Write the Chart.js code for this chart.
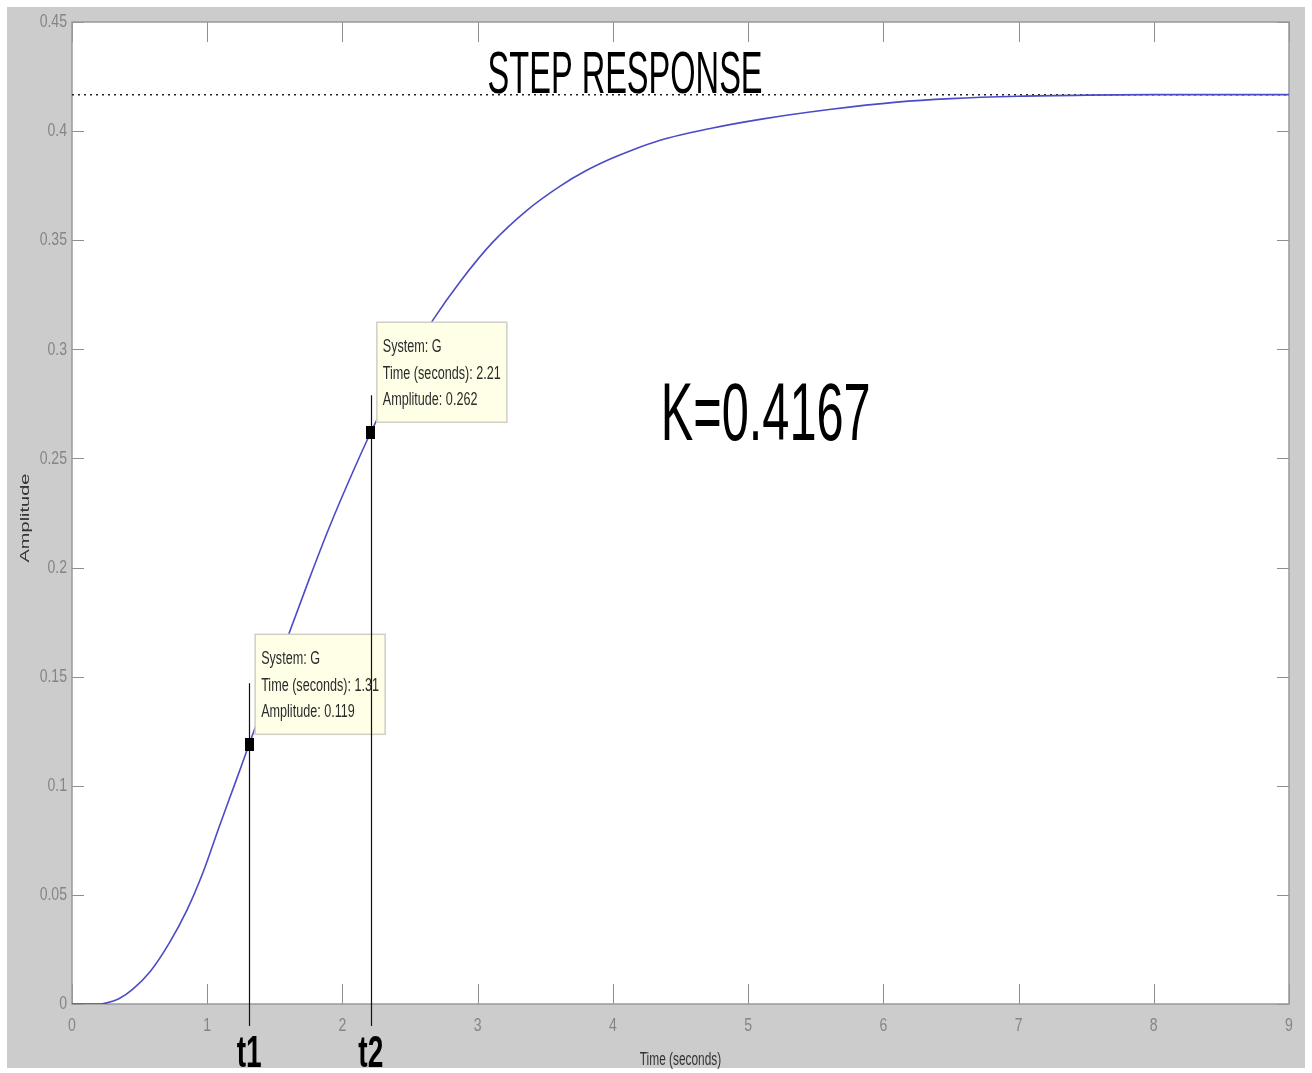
<!DOCTYPE html>
<html>
<head>
<meta charset="utf-8">
<title>Step Response</title>
<script src="https://cdn.jsdelivr.net/npm/chart.js@4/dist/chart.umd.min.js"></script>
<style>
  html, body { margin: 0; padding: 0; background: #ffffff; overflow: hidden; }
  canvas { display: block; }
</style>
</head>
<body>
<canvas id="plot" width="1312" height="1073"></canvas>
<script>
// Step response of system G (time in seconds, amplitude)
const timeSec = [0, 0.1, 0.2, 0.25, 0.35, 0.45, 0.58, 0.72, 0.85, 0.97, 1.09, 1.22, 1.31,
  1.45, 1.6, 1.75, 1.9, 2.05, 2.21, 2.35, 2.5, 2.67, 2.87, 3.11, 3.36, 3.61, 3.8, 3.98,
  4.15, 4.35, 4.72, 5.1, 5.6, 6.1, 6.5, 7.0, 7.5, 8.0, 9.0];
const amplitude = [0, 0, 0, 0.0004, 0.0025, 0.0068, 0.015, 0.028, 0.043, 0.0605, 0.0815, 0.1035, 0.119,
  0.143, 0.169, 0.194, 0.218, 0.24, 0.262, 0.2795, 0.2965, 0.3135, 0.331, 0.349, 0.3635, 0.3748, 0.3818, 0.3872,
  0.3915, 0.3958, 0.4012, 0.4055, 0.4099, 0.4133, 0.4149, 0.416, 0.4165, 0.4167, 0.4167];

// Steady-state gain
const gainK = 0.4167;

// Data tips (t1, t2)
const tipNames = ['t1', 't2'];
const tipTime = [1.31, 2.21];
const tipAmp = [0.119, 0.262];
const tipLineTop = [0.147, 0.279];

// Axis ticks
const xTicks = [0, 1, 2, 3, 4, 5, 6, 7, 8, 9];
const xTickLabels = ['0', '1', '2', '3', '4', '5', '6', '7', '8', '9'];
const yTicks = [0, 0.05, 0.1, 0.15, 0.2, 0.25, 0.3, 0.35, 0.4, 0.45];
const yTickLabels = ['0', '0.05', '0.1', '0.15', '0.2', '0.25', '0.3', '0.35', '0.4', '0.45'];

const FONT = '"Liberation Sans", Arial, sans-serif';

function drawText(ctx, s, x, y, size, o) {
  o = o || {};
  ctx.save();
  ctx.font = (o.weight || 'normal') + ' ' + size + 'px ' + FONT;
  ctx.fillStyle = o.color || '#000';
  ctx.textAlign = o.align || 'center';
  ctx.textBaseline = o.baseline || 'alphabetic';
  let k = o.sx || 1;
  if (o.width) k = o.width / ctx.measureText(s).width;
  ctx.translate(x, y);
  if (o.rotate) {
    ctx.rotate(o.rotate);
    ctx.scale(1, o.sy || 1);
  } else {
    ctx.scale(k, 1);
  }
  ctx.fillText(s, 0, 0);
  ctx.restore();
}

// Marker for data tips: small filled black rectangle
const tipMarker = document.createElement('canvas');
tipMarker.width = 9; tipMarker.height = 13;
(function () {
  const m = tipMarker.getContext('2d');
  m.fillStyle = '#000';
  m.fillRect(0, 0, 9, 13);
})();

const figureFrame = {
  id: 'figureFrame',
  beforeDraw(chart) {
    const { ctx, chartArea: a, width, height } = chart;
    ctx.save();
    ctx.fillStyle = '#ffffff';
    ctx.fillRect(0, 0, width, height);
    ctx.fillStyle = '#cccccc';
    ctx.fillRect(7, 7, width - 14, height - 12);
    ctx.fillStyle = '#ffffff';
    ctx.fillRect(a.left, a.top, a.right - a.left, a.bottom - a.top);
    ctx.restore();
  },
  beforeDatasetsDraw(chart) {
    const { ctx, chartArea: a, scales } = chart;
    const xs = scales.x, ys = scales.y;
    ctx.save();
    ctx.strokeStyle = '#8e8e8e';
    ctx.lineWidth = 1;
    ctx.beginPath();
    xTicks.forEach(v => {
      const px = Math.round(xs.getPixelForValue(v)) + 0.5;
      ctx.moveTo(px, a.bottom); ctx.lineTo(px, a.bottom - 20);
      ctx.moveTo(px, a.top); ctx.lineTo(px, a.top + 20);
    });
    yTicks.forEach(v => {
      const py = Math.round(ys.getPixelForValue(v)) + 0.5;
      ctx.moveTo(a.left, py); ctx.lineTo(a.left + 12, py);
      ctx.moveTo(a.right, py); ctx.lineTo(a.right - 12, py);
    });
    ctx.stroke();
    ctx.strokeStyle = '#999999';
    ctx.lineWidth = 1.5;
    ctx.strokeRect(a.left, a.top, a.right - a.left, a.bottom - a.top);
    ctx.restore();
  },
  afterDatasetDraw(chart, args) {
    if (args.index !== 0) return;
    const { ctx, chartArea: a, scales } = chart;
    const xs = scales.x, ys = scales.y;
    ctx.save();
    // data tip boxes
    tipTime.forEach((t, i) => {
      const px = xs.getPixelForValue(t), py = ys.getPixelForValue(tipAmp[i]);
      const bx = px + 6, by = py - 10 - 100;
      ctx.fillStyle = '#ffffe8';
      ctx.fillRect(bx, by, 130, 100);
      ctx.strokeStyle = '#cfcfc2';
      ctx.lineWidth = 1.5;
      ctx.strokeRect(bx, by, 130, 100);
      const lines = ['System: G', 'Time (seconds): ' + t, 'Amplitude: ' + tipAmp[i]];
      lines.forEach((s, j) => {
        drawText(ctx, s, bx + 6, by + 30 + j * 26.5, 18, { align: 'left', sx: 0.70, color: '#2b2b2b' });
      });
    });
    // guide lines from the tips down to the t1 / t2 labels
    ctx.strokeStyle = '#111';
    ctx.lineWidth = 1.2;
    ctx.beginPath();
    tipTime.forEach((t, i) => {
      const px = Math.round(xs.getPixelForValue(t)) + 0.5;
      ctx.moveTo(px, ys.getPixelForValue(tipLineTop[i]));
      ctx.lineTo(px, a.bottom + 22);
    });
    ctx.stroke();
    ctx.restore();
  },
  afterDraw(chart) {
    const { ctx, chartArea: a, scales } = chart;
    const xs = scales.x, ys = scales.y;
    // tick labels
    xTicks.forEach((v, i) => {
      drawText(ctx, xTickLabels[i], xs.getPixelForValue(v), a.bottom + 22, 19,
        { baseline: 'middle', sx: 0.74, color: '#858585' });
    });
    yTicks.forEach((v, i) => {
      drawText(ctx, yTickLabels[i], a.left - 5, ys.getPixelForValue(v), 19,
        { align: 'right', baseline: 'middle', sx: 0.74, color: '#858585' });
    });
    // axis titles
    drawText(ctx, 'Time (seconds)', (a.left + a.right) / 2, a.bottom + 61, 18,
      { sx: 0.66, color: '#333' });
    drawText(ctx, 'Amplitude', a.left - 47, (a.top + a.bottom) / 2 + 5, 20,
      { rotate: -Math.PI / 2, sy: 0.66, baseline: 'middle', color: '#333' });
    // headings
    drawText(ctx, 'STEP RESPONSE', xs.getPixelForValue(4.09), ys.getPixelForValue(0.4175), 60,
      { width: 275, color: '#000' });
    drawText(ctx, 'K=' + gainK, xs.getPixelForValue(5.13), ys.getPixelForValue(0.2585), 81,
      { width: 210, color: '#000' });
    // t1 / t2 labels
    tipTime.forEach((t, i) => {
      drawText(ctx, tipNames[i], xs.getPixelForValue(t), a.bottom + 63, 44,
        { weight: 'bold', width: 25, color: '#000' });
    });
  }
};

new Chart(document.getElementById('plot').getContext('2d'), {
  type: 'line',
  data: {
    datasets: [
      {
        label: 'G',
        data: timeSec.map((t, i) => ({ x: t, y: amplitude[i] })),
        borderColor: '#4b4bc8',
        borderWidth: 1.6,
        pointRadius: 0,
        cubicInterpolationMode: 'monotone',
        fill: false,
        order: 1
      },
      {
        label: 'steady state',
        data: [{ x: xTicks[0], y: gainK }, { x: xTicks[xTicks.length - 1], y: gainK }],
        borderColor: '#222',
        borderWidth: 1.5,
        borderDash: [2, 4],
        pointRadius: 0,
        fill: false,
        order: 2
      },
      {
        label: 'data tips',
        data: tipTime.map((t, i) => ({ x: t, y: tipAmp[i] })),
        showLine: false,
        pointStyle: tipMarker,
        pointRadius: 6,
        order: 0
      }
    ]
  },
  options: {
    responsive: false,
    animation: false,
    devicePixelRatio: 1,
    layout: { padding: { top: 22, right: 23, left: 0, bottom: 0 } },
    plugins: { legend: { display: false }, tooltip: { enabled: false } },
    scales: {
      x: {
        type: 'linear', min: 0, max: 9,
        grid: { display: false }, border: { display: false },
        ticks: { display: false },
        afterBuildTicks(s) { s.ticks = xTicks.map(v => ({ value: v })); },
        afterFit(s) { s.height = 69; }
      },
      y: {
        type: 'linear', min: 0, max: 0.45,
        grid: { display: false }, border: { display: false },
        ticks: { display: false },
        afterBuildTicks(s) { s.ticks = yTicks.map(v => ({ value: v })); },
        afterFit(s) { s.width = 72; }
      }
    }
  },
  plugins: [figureFrame]
});
</script>
</body>
</html>
